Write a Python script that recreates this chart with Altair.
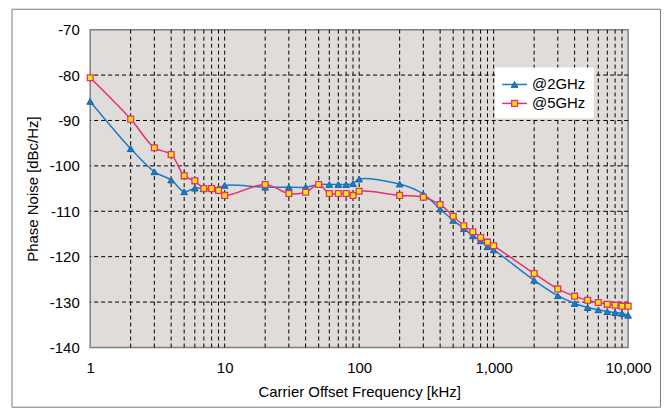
import altair as alt
import pandas as pd

# ---- data ----
freq = [1, 2, 3, 4, 5, 6, 7, 8, 9, 10,
        20, 30, 40, 50, 60, 70, 80, 90, 100,
        200, 300, 400, 500, 600, 700, 800, 900, 1000,
        2000, 3000, 4000, 5000, 6000, 7000, 8000, 9000, 10000]
pn_2ghz = [-85.8, -96.2, -101.3, -103.1, -105.7, -104.9, -105.0, -105.0, -104.9, -104.3,
           -104.7, -104.7, -104.7, -104.1, -104.1, -104.1, -104.1, -103.9, -102.9,
           -104.0, -106.2, -109.5, -112.0, -113.8, -115.4, -116.5, -117.8, -118.5,
           -125.2, -128.6, -130.3, -131.2, -131.7, -132.1, -132.3, -132.5, -132.9]
pn_5ghz = [-80.6, -89.7, -96.0, -97.5, -102.2, -103.3, -105.0, -105.0, -105.4, -106.5,
           -104.1, -106.1, -105.8, -104.1, -106.1, -106.1, -106.1, -106.5, -105.6,
           -106.5, -106.9, -108.5, -111.1, -113.2, -114.5, -115.8, -116.8, -117.6,
           -123.7, -127.1, -128.7, -129.6, -130.1, -130.5, -130.7, -130.9, -130.9]
series_names = ["@2GHz", "@5GHz"]
x_label_values = [1, 10, 100, 1000, 10000]
y_label_values = [-140, -130, -120, -110, -100, -90, -80, -70]
grid_x = [2, 3, 4, 5, 6, 7, 8, 9, 10,
          20, 30, 40, 50, 60, 70, 80, 90, 100,
          200, 300, 400, 500, 600, 700, 800, 900, 1000,
          2000, 3000, 4000, 5000, 6000, 7000, 8000, 9000]
grid_y = [-130, -120, -110, -100, -90, -80]

BLUE = "#1a7cc4"
BLUE_EDGE = "#1566a8"
PINK = "#e8306f"
YELLOW = "#ffea00"
FONT = "Liberation Sans"

df = pd.DataFrame({
    "freq": freq * 2,
    "pn": pn_2ghz + pn_5ghz,
    "series": [series_names[0]] * len(freq) + [series_names[1]] * len(freq),
})
gx_df = pd.DataFrame({"freq": grid_x})
gy_df = pd.DataFrame({"pn": grid_y})
legend_df = pd.DataFrame({"series": series_names})
one_df = pd.DataFrame({"k": [0]})

x_scale = alt.Scale(type="log", domain=[1, 10000], nice=False)
y_scale = alt.Scale(domain=[-140, -70], nice=False, zero=False)

x_axis = alt.Axis(values=x_label_values, format=",", title="Carrier Offset Frequency [kHz]",
                  labelFont=FONT, titleFont=FONT, labelFontSize=15, titleFontSize=15,
                  labelColor="#000", titleColor="#000", titleFontWeight="normal",
                  ticks=False, domain=False, grid=False, labelPadding=13,
                  labelFlush=False, titleY=44, titleBaseline="middle")
y_axis = alt.Axis(values=y_label_values, title="Phase Noise [dBc/Hz]",
                  labelExpr="'' + datum.value",
                  labelFont=FONT, titleFont=FONT, labelFontSize=15, titleFontSize=15,
                  labelColor="#000", titleColor="#000", titleFontWeight="normal",
                  ticks=False, domain=False, grid=False, labelPadding=11,
                  labelFlush=False, titleX=-57.5, titleY=159.5,
                  titleBaseline="middle", titleAngle=270, titleAlign="center")

X = alt.X("freq:Q", scale=x_scale, axis=x_axis)
Y = alt.Y("pn:Q", scale=y_scale, axis=y_axis)

grid_v = alt.Chart(gx_df).mark_rule(color="#000", strokeWidth=1, strokeDash=[4, 3]).encode(x=X)
grid_h = alt.Chart(gy_df).mark_rule(color="#000", strokeWidth=1, strokeDash=[4, 3]).encode(y=Y)

s2 = alt.Chart(df).transform_filter(alt.datum.series == series_names[0])
s5 = alt.Chart(df).transform_filter(alt.datum.series == series_names[1])

line2 = s2.mark_line(color=BLUE, strokeWidth=1.5, interpolate="catmull-rom").encode(x=X, y=Y)
line5 = s5.mark_line(color=PINK, strokeWidth=1.5, interpolate="catmull-rom").encode(x=X, y=Y)
pts2 = s2.mark_point(shape="triangle-up", filled=True, fill=BLUE, stroke=BLUE_EDGE,
                     strokeWidth=1, size=45, opacity=1).encode(x=X, y=Y)
pts5 = s5.mark_square(size=34, fill=YELLOW, stroke=PINK, strokeWidth=1.3, opacity=1).encode(x=X, y=Y)

# legend (manual, placed in pixel space)
lg_box = alt.Chart(one_df).mark_rect(fill="white").encode(
    x=alt.value(406.5), x2=alt.value(505.5), y=alt.value(38), y2=alt.value(89))

def legend_entry(i, yv, color, marker):
    base = alt.Chart(legend_df).transform_filter(alt.datum.series == series_names[i])
    ln = base.mark_rule(color=color, strokeWidth=1.5).encode(
        x=alt.value(413.5), x2=alt.value(438.5), y=alt.value(yv))
    tx = base.mark_text(align="left", baseline="middle", font=FONT, fontSize=15, color="#000").encode(
        x=alt.value(443.5), y=alt.value(yv), text="series:N")
    return [ln, marker.encode(x=alt.value(426), y=alt.value(yv)), tx]

mk2 = alt.Chart(legend_df).transform_filter(alt.datum.series == series_names[0]).mark_point(
    shape="triangle-up", filled=True, fill=BLUE, stroke=BLUE_EDGE, strokeWidth=1, size=45, opacity=1)
mk5 = alt.Chart(legend_df).transform_filter(alt.datum.series == series_names[1]).mark_square(
    size=34, fill=YELLOW, stroke=PINK, strokeWidth=1.3, opacity=1)

legend_layers = [lg_box] + legend_entry(0, 55, BLUE, mk2) + legend_entry(1, 74, PINK, mk5)

outer = alt.Chart(one_df).mark_rect(filled=False, stroke="#7a7a7a", strokeWidth=1).encode(
    x=alt.value(-78.5), x2=alt.value(572.5), y=alt.value(-20.5), y2=alt.value(379))

chart = alt.layer(
    grid_v, grid_h, line2, line5, pts2, pts5, *legend_layers, outer
).properties(
    width=540, height=319,
    padding={"left": 82.5, "top": 21, "right": 34, "bottom": 62},
    autosize=alt.AutoSizeParams(type="none"),
    background="white",
).configure_view(
    fill="#e0dcda", stroke="#808080", strokeWidth=1.5
)

chart.save("out.html", embed_options={"renderer": "svg", "actions": False})
